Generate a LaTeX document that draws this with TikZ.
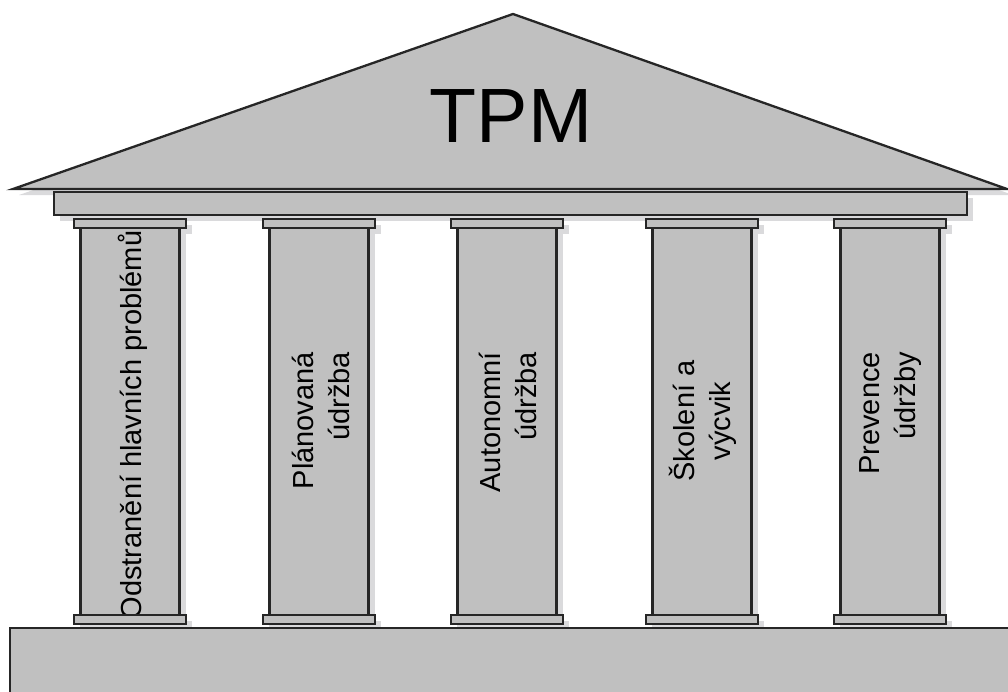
\documentclass[tikz,border=0pt]{standalone}
\usepackage{fontspec}
\setmainfont{Liberation Sans}
\definecolor{stone}{HTML}{C0C0C0}
\definecolor{shade}{HTML}{DADADC}
\tikzset{
  block/.style= {draw=black!85, fill=stone, line width=2.3pt},
  drop/.style= {fill=shade},
  pillartext/.style= {inner sep=0, rotate=90, font=\fontsize{29}{36}\selectfont},
}

\begin{document}
\begin{tikzpicture}[x=1pt, y=-1pt]
  \useasboundingbox (0,0) rectangle (1008,691);
  \clip (0,0) rectangle (1008,691);

  % shadows behind everything
  \begin{scope}[shift={(6,6)}]
    \fill [drop] (13,189) -- (513,14) -- (1007,189) -- cycle;
    \fill [drop] (54,192) rectangle (967,215);
    \foreach \x in {130,319,507,702,890} {
      \fill [drop] (\x-56,219) rectangle (\x+56,228);
      \fill [drop] (\x-49.5,228) rectangle (\x+49.5,615);
      \fill [drop] (\x-56,615) rectangle (\x+56,624);
    }
  \end{scope}

  % base, roof and beam
  \draw [block] (10,628) rectangle (1030,720);
  \draw [block] (13,189) -- (513,14) -- (1007,189) -- cycle;
  \draw [block] (54,192) rectangle (967,215);
  \node [anchor=base, font=\fontsize{77}{77}\selectfont] (tpm) at (511,142) {TPM};

  % column shafts
  \foreach \x in {130,319,507,702,890}
    \draw [block] (\x-49.5,228) rectangle (\x+49.5,615);

  \node [pillartext] (odstraneni) at (133,425) {Odstranění hlavních problémů};
  \node [pillartext, align=right, anchor=east] (planovana) at (321,352) {Plánovaná\\údržba};
  \node [pillartext, align=right, anchor=east] (autonomni) at (508,352) {Autonomní\\údržba};
  \node [pillartext, align=center] (skoleni) at (703,421) {Školení a\\výcvik};
  \node [pillartext, align=right, anchor=east] (prevence) at (891,352) {Prevence\\údržby};

  % capitals and plinths
  \foreach \x in {130,319,507,702,890} {
    \draw [block] (\x-56,219) rectangle (\x+56,228);
    \draw [block] (\x-56,615) rectangle (\x+56,624);
  }
\end{tikzpicture}
\end{document}
